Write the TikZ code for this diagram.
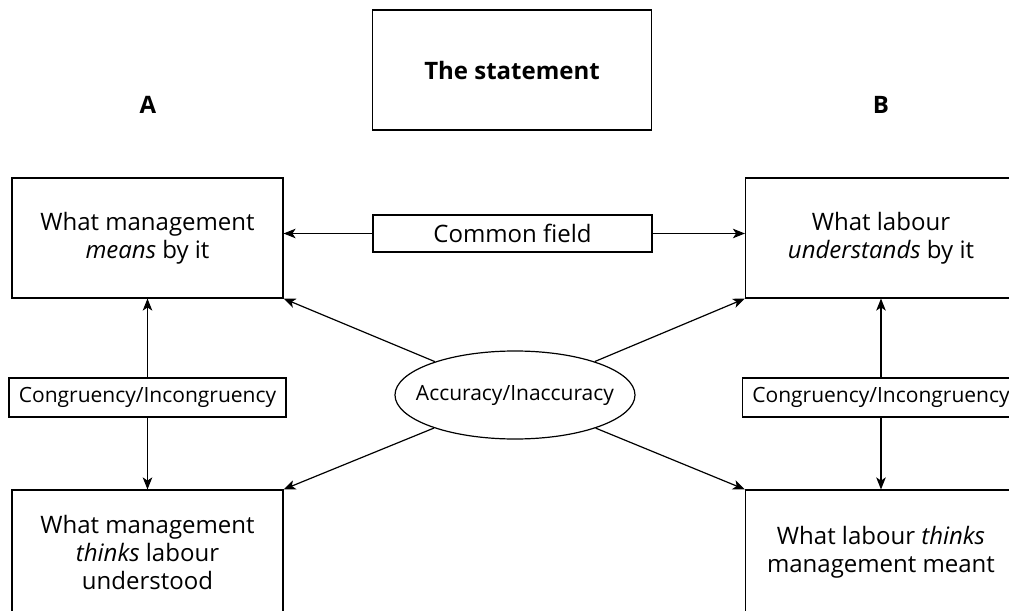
\documentclass[tikz,border=0pt]{standalone}
\usepackage{fontspec}
\setmainfont{Open Sans}
\usepackage{tikz}
\usetikzlibrary{arrows.meta, shapes.geometric}

\begin{document}
\begin{tikzpicture}[
            x=0.5pt, y=-0.5pt,
            box/.style={draw, line width=0.6pt, align=center, inner sep=0pt,
                        font=\fontsize{12}{14}\selectfont},
            bigbox/.style={box, minimum width=135.5pt, minimum height=60pt},
            tag/.style={box, minimum width=138.5pt, minimum height=19.5pt,
                        font=\fontsize{10.5}{12}\selectfont},
            link/.style={line width=0.6pt},
            >={Stealth[length=6pt, width=4.8pt, inset=1.6pt]}]

        \useasboundingbox (0,0) rectangle (1009,611);
        \clip (0,0) rectangle (1009,611);

        \node[box, font=\fontsize{12}{14}\selectfont\bfseries, minimum width=139.5pt, minimum height=60pt] (stmt) at (512,70) {The statement};
        \node[font=\fontsize{12}{14}\selectfont\bfseries] (colA) at (148,105) {A};
        \node[font=\fontsize{12}{14}\selectfont\bfseries] (colB) at (881,105) {B};

        \node[bigbox] (means) at (147.5,238) {What management\\ \textit{means} by it};
        \node[bigbox] (understands) at (881,238) {What labour\\ \textit{understands} by it};
        \node[box, minimum width=139.5pt, minimum height=18.5pt] (common) at (512.5,233.5) {Common field};

        \node[tag] (congA) at (147.5,397.5) {Congruency/Incongruency};
        \node[tag] (congB) at (881,397.5) {Congruency/Incongruency};
        \node[draw, line width=0.6pt, ellipse, inner xsep=-8pt, inner ysep=0pt,
              minimum width=120pt, minimum height=44pt,
              font=\fontsize{10.5}{12}\selectfont] (acc) at (515,395) {Accuracy/Inaccuracy};

        \node[bigbox, minimum height=62pt] (mthinks) at (147.5,552) {What management\\ \textit{thinks} labour\\ understood};
        \node[bigbox, minimum height=62pt] (lthinks) at (881,552) {What labour \textit{thinks}\\ management meant};

        % common field
        \draw[link,->] (common.west) -- (common.west -| means.east);
        \draw[link,->] (common.east) -- (common.east -| understands.west);

        % congruency
        \draw[link,->] (congA) -- (means);
        \draw[link,->] (congA) -- (mthinks);
        \draw[link,->] (congB) -- (understands);
        \draw[link,->] (congB) -- (lthinks);

        % accuracy
        \draw[link,->] (acc) -- (means.south east);
        \draw[link,->] (acc) -- (understands.south west);
        \draw[link,->] (acc) -- (mthinks.north east);
        \draw[link,->] (acc) -- (lthinks.north west);
    \end{tikzpicture}
\end{document}
